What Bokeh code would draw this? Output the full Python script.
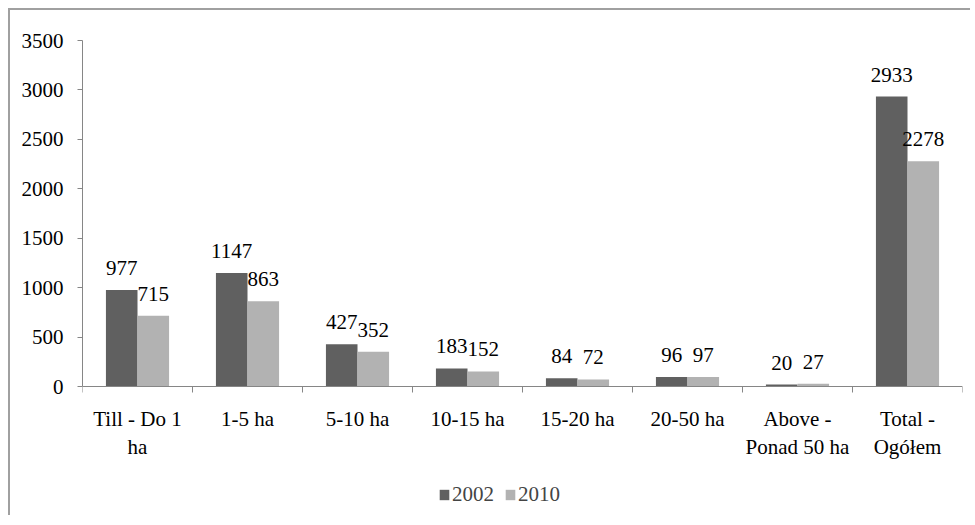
import numpy as np
from bokeh.plotting import figure
from bokeh.models import (ColumnDataSource, FixedTicker, Range1d, Legend, LegendItem)
from bokeh.transform import dodge
from bokeh.core.properties import value
from bokeh.embed import file_html
from bokeh.resources import INLINE

categories = ["Till - Do 1\nha", "1-5 ha", "5-10 ha", "10-15 ha", "15-20 ha",
              "20-50 ha", "Above -\nPonad 50 ha", "Total -\nOgółem"]
series_2002 = [977, 1147, 427, 183, 84, 96, 20, 2933]
series_2010 = [715, 863, 352, 152, 72, 97, 27, 2278]
y_ticks = [0, 500, 1000, 1500, 2000, 2500, 3000, 3500]

FONT = "Liberation Serif"
FS = "21px"
DARK = "#606060"
LIGHT = "#b2b2b2"
AXIS = "#868686"

n = len(categories)
centers = [i + 0.5 for i in range(n)]
src = ColumnDataSource(dict(
    x=centers,
    v2002=series_2002,
    v2010=series_2010,
    t2002=[str(v) for v in series_2002],
    t2010=[str(v) for v in series_2010],
))

# plot area: value axis spans 346 px; frame extends below to hold labels and legend
AXIS_PX = 346
FRAME_H = 475
y_max = y_ticks[-1]
y_min = -y_max * (FRAME_H - AXIS_PX) / AXIS_PX

p = figure(frame_width=880, frame_height=FRAME_H, output_backend="svg",
           toolbar_location=None,
           x_range=Range1d(0, n), y_range=Range1d(y_min, y_max),
           min_border_left=72, min_border_right=8, min_border_top=30,
           min_border_bottom=0)
p.outline_line_color = None
p.xgrid.visible = False
p.ygrid.visible = False
p.margin = (8, 0, 0, 8)
p.styles = {"border-left": "2px solid #a0a0a0", "border-top": "2px solid #a0a0a0"}

bw = 0.287
off = 0.1435
r1 = p.vbar(x=dodge("x", -off, range=p.x_range), top="v2002", bottom=0, width=bw,
            source=src, fill_color=DARK, line_color=None)
r2 = p.vbar(x=dodge("x", off, range=p.x_range), top="v2010", bottom=0, width=bw,
            source=src, fill_color=LIGHT, line_color=None)

p.text(x=dodge("x", -off, range=p.x_range), y="v2002", text="t2002", source=src,
       text_font=value(FONT), text_font_size=FS, text_align="center",
       text_baseline="alphabetic", y_offset=-22, text_color="black")
p.text(x=dodge("x", off, range=p.x_range), y="v2010", text="t2010", source=src,
       text_font=value(FONT), text_font_size=FS, text_align="center",
       text_baseline="alphabetic", y_offset=-22, text_color="black")

# y axis
ya = p.yaxis[0]
ya.ticker = FixedTicker(ticks=y_ticks)
ya.bounds = (0, y_max)
ya.axis_line_color = AXIS
ya.major_tick_line_color = AXIS
ya.major_tick_out = 5
ya.major_tick_in = 0
ya.minor_tick_line_color = None
ya.major_label_text_font = FONT
ya.major_label_text_font_size = FS
ya.major_label_text_color = "black"
ya.major_label_standoff = 14

# x axis drawn at value 0: labels at centres, ticks at category boundaries
xa = p.xaxis[0]
xa.fixed_location = 0
xa.ticker = FixedTicker(ticks=centers, minor_ticks=list(range(n + 1)))
xa.major_label_overrides = {c: lab for c, lab in zip(centers, categories)}
xa.axis_line_color = AXIS
xa.major_tick_line_color = None
xa.major_tick_out = 0
xa.major_tick_in = 0
xa.minor_tick_line_color = AXIS
xa.minor_tick_out = 6
xa.minor_tick_in = 0
xa.major_label_text_font = FONT
xa.major_label_text_font_size = FS
xa.major_label_text_color = "black"
xa.major_label_standoff = 14

legend = Legend(items=[LegendItem(label="2002", renderers=[r1]),
                       LegendItem(label="2010", renderers=[r2])],
                orientation="horizontal", location=(356, 8),
                label_text_font=FONT, label_text_font_size=FS,
                glyph_width=12, glyph_height=13, label_standoff=2, spacing=10,
                padding=0, margin=0, border_line_color=None,
                background_fill_alpha=0)
p.add_layout(legend, "center")

open("out.html", "w").write(file_html(p, INLINE))
